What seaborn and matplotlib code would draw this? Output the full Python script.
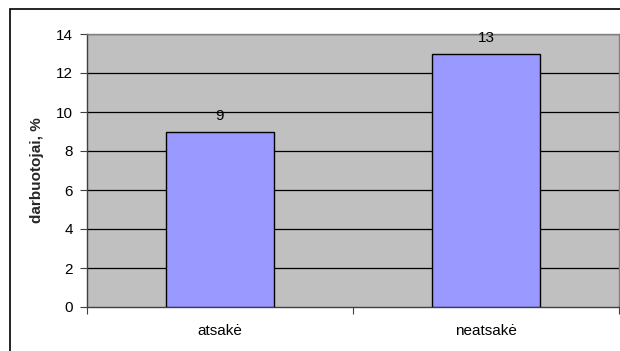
import matplotlib
matplotlib.use("Agg")
import matplotlib.pyplot as plt
import seaborn as sns
import pandas as pd
from matplotlib.patches import Rectangle

categories = ["atsakė", "neatsakė"]
values = [9, 13]
y_ticks = [0, 2, 4, 6, 8, 10, 12, 14]
y_label = "darbuotojai, %"

sns.set_theme(style="white")
plt.rcParams["font.family"] = ["Liberation Sans", "DejaVu Sans"]

df = pd.DataFrame({"cat": categories, "val": values})

fig = plt.figure(figsize=(6.2, 3.51), dpi=100)
W, H = 620, 351
ax = fig.add_axes([87 / W, 1 - 307 / H, (619 - 87) / W, (307 - 34) / H])
ax.set_facecolor("#C0C0C0")

sns.barplot(data=df, x="cat", y="val", ax=ax, color="#9999FF",
            saturation=1, width=0.406, edgecolor="black", linewidth=1, zorder=3)

ax.set_ylim(0, 14)
ax.set_xlim(-0.5, 1.5)
ax.set_yticks(y_ticks)
ax.set_yticklabels([str(t) for t in y_ticks], fontsize=11, color="black")
for t in y_ticks[1:]:
    ax.axhline(t, color="black", lw=0.9, zorder=1)

ax.set_xticks([0, 1])
ax.set_xticklabels(categories, fontsize=11, color="black")
ax.tick_params(axis="x", length=0, pad=12)
ax.tick_params(axis="y", length=5, width=0.8, color="#404040", direction="out", pad=5, left=True)
# category separators on the x axis
ax.set_xticks([-0.5, 0.5, 1.5], minor=True)
ax.tick_params(axis="x", which="minor", length=5, width=0.8, color="#404040", direction="out", bottom=True)

ax.set_xlabel("")
ax.set_ylabel(y_label, fontsize=11, fontweight="bold", labelpad=9)

for sp in ax.spines.values():
    sp.set_color("#808080")
    sp.set_linewidth(1)
ax.spines["bottom"].set_color("#404040")
ax.spines["left"].set_color("#404040")

for i, v in enumerate(values):
    ax.annotate(str(v), (i, v), xytext=(0, 6), textcoords="offset points",
                ha="center", va="bottom", fontsize=11, color="black", zorder=5,
                annotation_clip=False)

# chart frame
fig.patches.append(Rectangle((10 / W, -0.1), 1.2, 1.1 - 9 / H, transform=fig.transFigure,
                             fill=False, edgecolor="black", lw=1.2, zorder=0))

fig.savefig("out.png", dpi=100, facecolor="white")
